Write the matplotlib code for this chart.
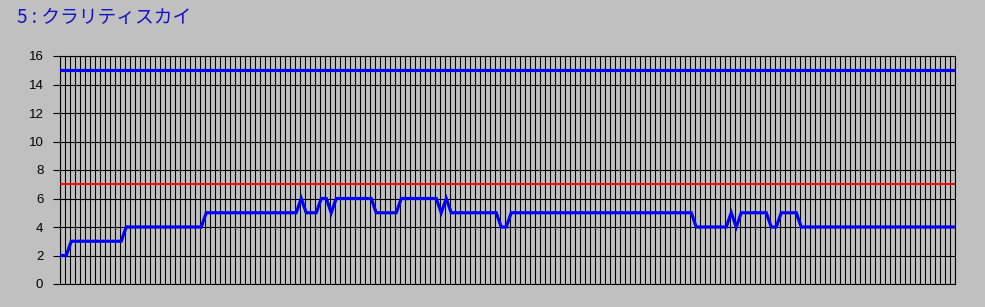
import numpy as np
import matplotlib
matplotlib.use("Agg")
import matplotlib.pyplot as plt

plt.rcParams['font.family'] = ['Noto Sans CJK JP', 'DejaVu Sans']

title = "5 : クラリティスカイ"

# runs of (value, count), one point per vertical gridline
runs = [
    (2, 2), (3, 11), (4, 16), (5, 19), (6, 1), (5, 3), (6, 2), (5, 1),
    (6, 8), (5, 5), (6, 8), (5, 1), (6, 1), (5, 10), (4, 2), (5, 37),
    (4, 7), (5, 1), (4, 1), (5, 6), (4, 2), (5, 4), (4, 32),
]
values = []
for v, n in runs:
    values += [v] * n
values = np.array(values)

upper_level = 15
lower_level = 7
y_ticks = list(range(0, 17, 2))

bg = '#c0c0c0'


def main():
    fig = plt.figure(figsize=(9.85, 3.07), dpi=100, facecolor=bg)
    ax = fig.add_axes([60 / 985, 23 / 307, 895 / 985, 228 / 307])
    ax.set_facecolor(bg)

    x = np.arange(len(values))
    ax.set_xlim(0, len(values) - 1)
    ax.set_ylim(0, 16)

    # dense vertical grid, one line per point
    ax.set_xticks(x)
    ax.set_xticklabels([])
    ax.tick_params(axis='x', length=0)
    ax.set_yticks(y_ticks)
    ax.set_yticklabels([str(t) for t in y_ticks], fontsize=9.5,
                       family='Liberation Sans')
    ax.tick_params(axis='y', length=5, width=0.8, pad=7, color='black')
    ax.grid(True, color='black', linewidth=0.8)
    ax.set_axisbelow(True)

    for s in ax.spines.values():
        s.set_color('black')
        s.set_linewidth(0.8)

    ax.axhline(upper_level, color='#0000ff', linewidth=2.3, zorder=3)
    ax.axhline(lower_level, color='#ff0000', linewidth=1.4, zorder=3)
    ax.plot(x + 0.25, values, color='#0000ff', linewidth=2.3, zorder=4,
            solid_joinstyle='miter')

    fig.text(17 / 985, 1 - 17 / 307, title, color='#1414c8', fontsize=13.5,
             ha='left', va='center')

    fig.savefig('out.png', dpi=100, facecolor=bg)


if __name__ == "__main__":
    main()
